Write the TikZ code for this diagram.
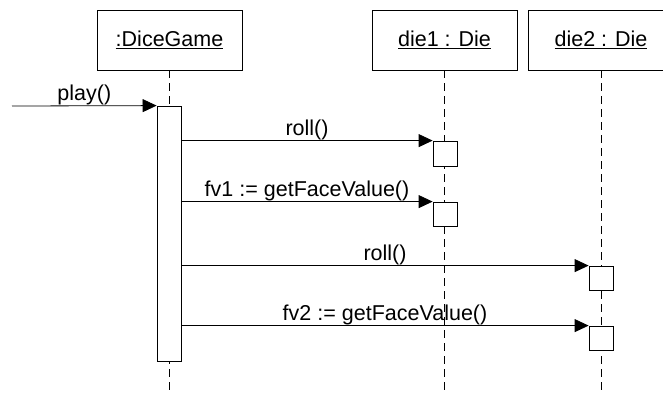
\documentclass[tikz,border=0pt]{standalone}
\usepackage{fontspec}
\setmainfont{Liberation Sans}
\usepackage{tikz}
\usetikzlibrary{calc}
\usetikzlibrary{arrows.meta}

\begin{document}
\begin{tikzpicture}[x=1pt, y=-1pt, line width=0.8pt,
  >={Triangle[length=14pt,width=13pt]},
  obj/.style={draw, fill=white, minimum width=145pt, minimum height=60pt, inner sep=0pt, font=\fontsize{21.5}{25}\selectfont},
  act/.style={draw, fill=white, minimum width=24pt, inner sep=0pt},
  life/.style={dash pattern=on 8pt off 5pt},
  msg/.style={midway, above, inner sep=0.5pt, font=\fontsize{21.5}{25}\selectfont}]
\useasboundingbox (0,0) rectangle (663,392);

% objects
\node[obj] (G) at (169.5,40) {\underline{:DiceGame}};
\node[obj] (D1) at (444.5,40) {\underline{die1 : Die}};
\node[obj] (D2) at (601,40) {\underline{die2 : Die}};

% lifelines
\coordinate (GE) at (169,392); \coordinate (D1E) at (444,392); \coordinate (D2E) at (601,392);
\draw[life] (G.south -| GE) -- (GE);
\draw[life] (D1.south -| D1E) -- (D1E);
\draw[life] (D2.south) -- (D2E);

% activations
\node[act, minimum height=255pt] (A) at (169,233.5) {};
\node[act, minimum height=25pt] (R1) at (445,153.5) {};
\node[act, minimum height=24pt] (F1) at (445,214) {};
\node[act, minimum height=24pt] (R2) at (601,278) {};
\node[act, minimum height=24pt] (F2) at (601,338) {};

% messages
\coordinate (P) at (12,106);
\draw[->] (P) -- (A.north west) node [msg] {play()};
\draw[->] (A.east |- R1.north) -- (R1.north west) node [msg] {roll()};
\draw[->] (A.east |- F1.north) -- (F1.north west) node [msg] {fv1 := getFaceValue()};
\draw[->] (A.east |- R2.north) -- (R2.north west) node [msg] {roll()};
\draw[->] (A.east |- F2.north) -- (F2.north west) node [msg] {fv2 := getFaceValue()};

\end{tikzpicture}
\end{document}
